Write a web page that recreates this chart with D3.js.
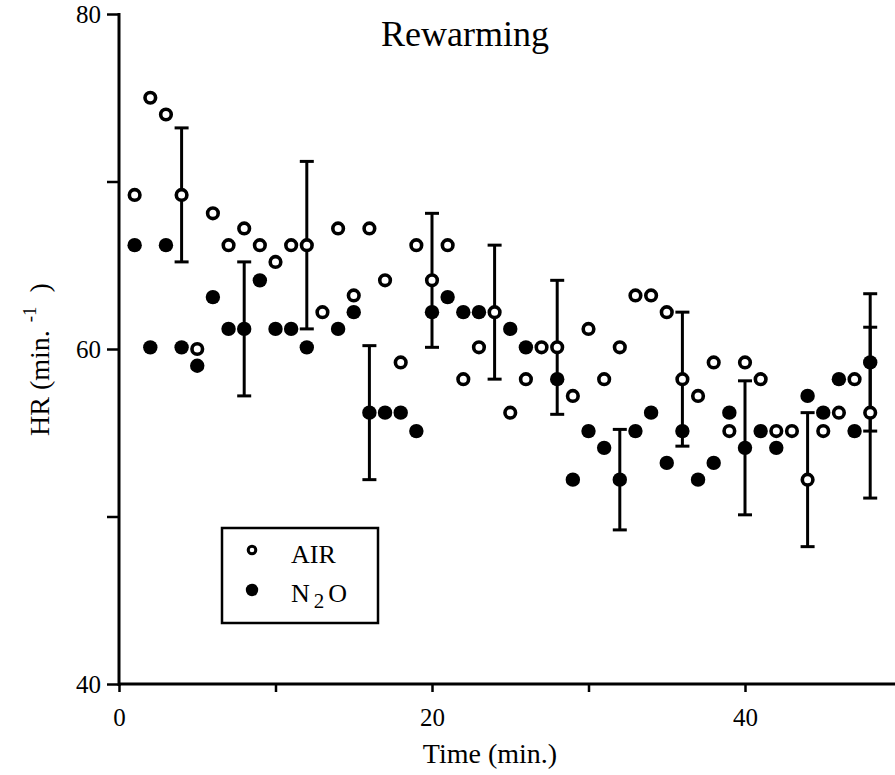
<!DOCTYPE html>
<html><head><meta charset="utf-8">
<script src="https://cdn.jsdelivr.net/npm/d3@7/dist/d3.min.js"></script>
<style>
body{margin:0;background:#fff;}
svg{display:block;font-family:"Liberation Serif","Times New Roman",serif;}
</style>
</head><body>
<svg id="chart" width="895" height="775"></svg>
<script>
// ---- data ----
const minutes = [1,2,3,4,5,6,7,8,9,10,11,12,13,14,15,16,17,18,19,20,21,22,23,24,
                 25,26,27,28,29,30,31,32,33,34,35,36,37,38,39,40,41,42,43,44,45,46,47,48];
const airHR = [69.2,75.0,74.0,69.2,60.0,68.1,66.2,67.2,66.2,65.2,66.2,66.2,62.2,67.2,63.2,67.2,
               64.1,59.2,66.2,64.1,66.2,58.2,60.1,62.2,56.2,58.2,60.1,60.1,57.2,61.2,58.2,60.1,
               63.2,63.2,62.2,58.2,57.2,59.2,55.1,59.2,58.2,55.1,55.1,52.2,55.1,56.2,58.2,56.2];
const n2oHR = [66.2,60.1,66.2,60.1,59.0,63.1,61.2,61.2,64.1,61.2,61.2,60.1,null,61.2,62.2,56.2,
               56.2,56.2,55.1,62.2,63.1,62.2,62.2,null,61.2,60.1,null,58.2,52.2,55.1,54.1,52.2,
               55.1,56.2,53.2,55.1,52.2,53.2,56.2,54.1,55.1,54.1,null,57.2,56.2,58.2,55.1,59.2];
const airErrMin = [4,12,20,24,28,36,44,48];
const airErr    = [4,5,4,4,4,4,4,5.1];
const n2oErrMin = [8,16,32,40,48];
const n2oErr    = [4,4,3,4,4.1];
const xTicks = [0,10,20,30,40];
const xTickLabels = ["0","","20","","40"];
const yTicks = [40,50,60,70,80];
const yTickLabels = ["40","","60","","80"];
const title = "Rewarming";
const xTitle = "Time (min.)";
const seriesNames = ["AIR","N2O"];

// ---- layout ----
const svg = d3.select("#chart");
const x = d3.scaleLinear().domain([0,50]).range([119,901.5]);
const y = d3.scaleLinear().domain([40,80]).range([684,14]);
const FONT = "Liberation Serif, Times New Roman, serif";

// axes
const xAxis = d3.axisBottom(x).tickValues(xTicks)
  .tickFormat((d,i)=>xTickLabels[i]).tickSize(8).tickSizeOuter(0).tickPadding(16);
const gx = svg.append("g").attr("transform",`translate(0,${y(40)})`).call(xAxis);
gx.select(".domain").remove();
gx.append("line").attr("x1",x(0)-1).attr("x2",895).attr("y1",0).attr("y2",0)
  .attr("stroke","#000").attr("stroke-width",3);
gx.selectAll(".tick line").attr("stroke","#000").attr("stroke-width",2.5);
gx.selectAll(".tick text").attr("fill","#000").attr("font-size",25).attr("font-family",FONT);

const yAxis = d3.axisLeft(y).tickValues(yTicks)
  .tickFormat((d,i)=>yTickLabels[i]).tickSize(12).tickSizeOuter(0).tickPadding(6);
const gy = svg.append("g").attr("transform",`translate(${x(0)},0)`).call(yAxis);
gy.select(".domain").remove();
gy.append("line").attr("x1",0).attr("x2",0).attr("y1",y(80)-1).attr("y2",y(40)+2)
  .attr("stroke","#000").attr("stroke-width",3);
gy.selectAll(".tick line").attr("stroke","#000").attr("stroke-width",2.5);
gy.selectAll(".tick text").attr("fill","#000").attr("font-size",25).attr("font-family",FONT);

// titles
svg.append("text").attr("x",465).attr("y",46).attr("text-anchor","middle")
  .attr("font-size",36).text(title);
svg.append("text").attr("x",490).attr("y",763).attr("text-anchor","middle")
  .attr("font-size",28).text(xTitle);
const yt = svg.append("text").attr("transform","translate(49,436) rotate(-90)")
  .attr("font-size",28);
yt.append("tspan").text("HR (min.");
yt.append("tspan").attr("dx",8).attr("dy",-13).attr("font-size",19).text("-1");
yt.append("tspan").attr("dx",14).attr("dy",13).text(")");

// error bars
function errBars(mins, errs, vals){
  const data = mins.map((m,i)=>({m, e:errs[i], v:vals[minutes.indexOf(m)]}));
  const g = svg.append("g").attr("stroke","#000").attr("stroke-width",3);
  g.selectAll("line.v").data(data).join("line")
    .attr("x1",d=>x(d.m)).attr("x2",d=>x(d.m))
    .attr("y1",d=>y(d.v+d.e)).attr("y2",d=>y(d.v-d.e));
  [1,-1].forEach(s=>{
    g.selectAll(null).data(data).join("line")
      .attr("x1",d=>x(d.m)-7).attr("x2",d=>x(d.m)+7)
      .attr("y1",d=>y(d.v+s*d.e)).attr("y2",d=>y(d.v+s*d.e));
  });
}
errBars(airErrMin, airErr, airHR);
errBars(n2oErrMin, n2oErr, n2oHR);

// points
const n2oData = minutes.map((m,i)=>({m,v:n2oHR[i]})).filter(d=>d.v!=null);
svg.append("g").selectAll("circle").data(n2oData).join("circle")
  .attr("cx",d=>x(d.m)).attr("cy",d=>y(d.v)).attr("r",7.2).attr("fill","#000");
const airData = minutes.map((m,i)=>({m,v:airHR[i]})).filter(d=>d.v!=null);
svg.append("g").selectAll("circle").data(airData).join("circle")
  .attr("cx",d=>x(d.m)).attr("cy",d=>y(d.v)).attr("r",5.3)
  .attr("fill","#fff").attr("stroke","#000").attr("stroke-width",3.6);

// legend
const lg = svg.append("g");
lg.append("rect").attr("x",222).attr("y",528).attr("width",156).attr("height",95)
  .attr("fill","#fff").attr("stroke","#000").attr("stroke-width",2.5);
lg.append("circle").attr("cx",252).attr("cy",550).attr("r",3.8)
  .attr("fill","#fff").attr("stroke","#000").attr("stroke-width",3);
lg.append("text").attr("x",291).attr("y",563).attr("font-size",26).text(seriesNames[0]);
lg.append("circle").attr("cx",252).attr("cy",590).attr("r",6.2).attr("fill","#000");
const lt = lg.append("text").attr("x",291).attr("y",602).attr("font-size",26);
lt.append("tspan").text("N");
lt.append("tspan").attr("dx",4).attr("dy",6).attr("font-size",21).text("2");
lt.append("tspan").attr("dx",4).attr("dy",-6).text("O");
</script>
</body></html>
